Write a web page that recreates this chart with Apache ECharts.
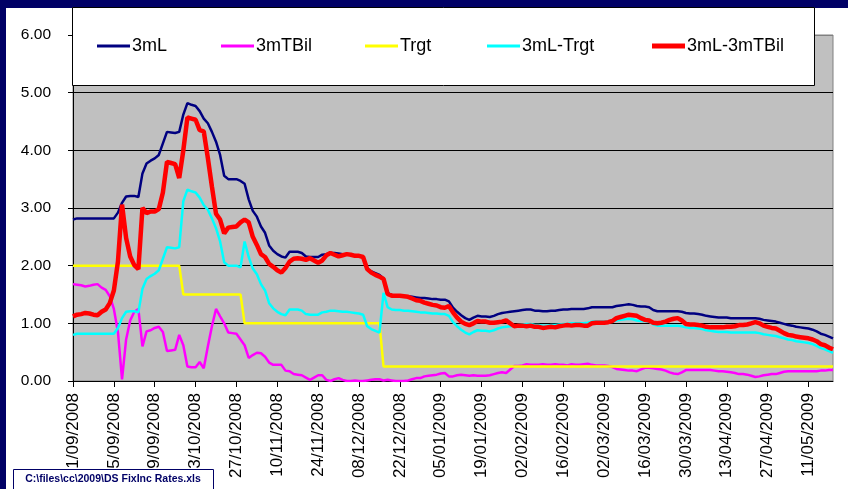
<!DOCTYPE html>
<html>
<head>
<meta charset="utf-8">
<script src="https://cdn.jsdelivr.net/npm/echarts@6/dist/echarts.min.js"></script>
<style>
html,body{margin:0;padding:0;background:#000066;}
#chart{width:848px;height:489px;}
</style>
</head>
<body>
<div id="chart"></div>
<script>
// ---- data (business days from 01/09/2008) ----
const seriesNames = ['3mL', '3mTBil', 'Trgt', '3mL-Trgt', '3mL-3mTBil'];
const startDay = '01/09/2008';

const libor3m = [
2.80,2.82,2.82,2.82,2.82,2.82,2.82,2.82,2.82,2.82,
2.82,2.92,3.09,3.20,3.21,3.21,3.19,3.60,3.77,3.82,
3.86,3.92,4.12,4.32,4.31,4.30,4.32,4.62,4.82,4.79,
4.77,4.68,4.55,4.47,4.32,4.15,3.92,3.56,3.50,3.50,
3.50,3.47,3.42,3.15,2.95,2.85,2.68,2.57,2.35,2.26,
2.20,2.16,2.14,2.24,2.24,2.24,2.22,2.16,2.15,2.15,
2.15,2.19,2.20,2.22,2.22,2.21,2.20,2.20,2.19,2.18,
2.17,2.15,1.95,1.90,1.87,1.84,1.78,1.53,1.49,1.48,
1.48,1.47,1.47,1.46,1.45,1.44,1.44,1.43,1.42,1.42,
1.41,1.41,1.38,1.27,1.20,1.14,1.09,1.06,1.10,1.13,
1.12,1.12,1.11,1.13,1.16,1.18,1.19,1.20,1.21,1.22,
1.23,1.24,1.24,1.22,1.22,1.21,1.21,1.22,1.22,1.23,
1.24,1.24,1.25,1.25,1.25,1.25,1.26,1.28,1.28,1.28,
1.28,1.28,1.28,1.30,1.31,1.32,1.33,1.32,1.30,1.29,
1.29,1.28,1.23,1.21,1.21,1.21,1.21,1.21,1.21,1.20,
1.18,1.17,1.17,1.16,1.15,1.13,1.12,1.11,1.10,1.10,
1.10,1.09,1.09,1.09,1.09,1.09,1.09,1.09,1.08,1.06,
1.05,1.04,1.03,1.01,0.99,0.97,0.96,0.94,0.93,0.92,
0.91,0.89,0.86,0.82,0.80,0.77,0.74];

const tbill3m = [
1.68,1.67,1.66,1.64,1.65,1.67,1.68,1.62,1.58,1.47,
1.25,0.85,0.03,0.72,1.05,1.20,1.25,0.60,0.86,0.88,
0.92,0.94,0.85,0.52,0.53,0.54,0.80,0.62,0.25,0.24,
0.24,0.33,0.22,0.60,0.95,1.25,1.12,1.00,0.84,0.83,
0.82,0.72,0.62,0.40,0.45,0.49,0.48,0.42,0.32,0.28,
0.28,0.28,0.18,0.17,0.12,0.11,0.10,0.06,0.02,0.06,
0.10,0.10,0.02,0.00,0.03,0.05,0.02,0.00,0.00,0.01,
0.00,0.00,0.01,0.02,0.03,0.03,0.01,0.02,0.01,0.00,
0.00,0.00,0.01,0.03,0.05,0.05,0.08,0.09,0.10,0.11,
0.13,0.14,0.08,0.08,0.10,0.11,0.10,0.09,0.10,0.09,
0.09,0.09,0.10,0.12,0.14,0.15,0.14,0.20,0.26,0.26,
0.27,0.29,0.28,0.28,0.28,0.29,0.28,0.28,0.29,0.28,
0.28,0.27,0.29,0.28,0.28,0.29,0.30,0.28,0.27,0.27,
0.27,0.26,0.24,0.21,0.20,0.19,0.18,0.18,0.17,0.20,
0.23,0.23,0.22,0.21,0.20,0.18,0.15,0.13,0.12,0.15,
0.19,0.19,0.19,0.19,0.19,0.19,0.19,0.18,0.17,0.17,
0.16,0.15,0.14,0.12,0.12,0.11,0.09,0.07,0.08,0.10,
0.11,0.12,0.12,0.14,0.16,0.17,0.17,0.17,0.17,0.17,
0.17,0.17,0.17,0.18,0.18,0.19,0.19];

const target = [
2.00,2.00,2.00,2.00,2.00,2.00,2.00,2.00,2.00,2.00,
2.00,2.00,2.00,2.00,2.00,2.00,2.00,2.00,2.00,2.00,
2.00,2.00,2.00,2.00,2.00,2.00,2.00,1.50,1.50,1.50,
1.50,1.50,1.50,1.50,1.50,1.50,1.50,1.50,1.50,1.50,
1.50,1.50,1.00,1.00,1.00,1.00,1.00,1.00,1.00,1.00,
1.00,1.00,1.00,1.00,1.00,1.00,1.00,1.00,1.00,1.00,
1.00,1.00,1.00,1.00,1.00,1.00,1.00,1.00,1.00,1.00,
1.00,1.00,1.00,1.00,1.00,1.00,0.25,0.25,0.25,0.25,
0.25,0.25,0.25,0.25,0.25,0.25,0.25,0.25,0.25,0.25,
0.25,0.25,0.25,0.25,0.25,0.25,0.25,0.25,0.25,0.25,
0.25,0.25,0.25,0.25,0.25,0.25,0.25,0.25,0.25,0.25,
0.25,0.25,0.25,0.25,0.25,0.25,0.25,0.25,0.25,0.25,
0.25,0.25,0.25,0.25,0.25,0.25,0.25,0.25,0.25,0.25,
0.25,0.25,0.25,0.25,0.25,0.25,0.25,0.25,0.25,0.25,
0.25,0.25,0.25,0.25,0.25,0.25,0.25,0.25,0.25,0.25,
0.25,0.25,0.25,0.25,0.25,0.25,0.25,0.25,0.25,0.25,
0.25,0.25,0.25,0.25,0.25,0.25,0.25,0.25,0.25,0.25,
0.25,0.25,0.25,0.25,0.25,0.25,0.25,0.25,0.25,0.25,
0.25,0.25,0.25,0.25,0.25,0.25,0.25];

const liborMinusTarget = [
0.80,0.82,0.82,0.82,0.82,0.82,0.82,0.82,0.82,0.82,
0.82,0.92,1.09,1.20,1.21,1.21,1.19,1.60,1.77,1.82,
1.86,1.92,2.12,2.32,2.31,2.30,2.32,3.12,3.32,3.29,
3.27,3.18,3.05,2.97,2.82,2.65,2.42,2.06,2.00,2.00,
2.00,1.97,2.42,2.15,1.95,1.85,1.68,1.57,1.35,1.26,
1.20,1.16,1.14,1.24,1.24,1.24,1.22,1.16,1.15,1.15,
1.15,1.19,1.20,1.22,1.22,1.21,1.20,1.20,1.19,1.18,
1.17,1.15,0.95,0.90,0.87,0.84,1.53,1.28,1.24,1.23,
1.23,1.22,1.22,1.21,1.20,1.19,1.19,1.18,1.17,1.17,
1.16,1.16,1.13,1.02,0.95,0.89,0.84,0.81,0.85,0.88,
0.87,0.87,0.86,0.88,0.91,0.93,0.94,0.95,0.96,0.97,
0.98,0.99,0.99,0.97,0.97,0.96,0.96,0.97,0.97,0.98,
0.99,0.99,1.00,1.00,1.00,1.00,1.01,1.03,1.03,1.03,
1.03,1.03,1.03,1.05,1.06,1.07,1.08,1.07,1.05,1.04,
1.04,1.03,0.98,0.96,0.96,0.96,0.96,0.96,0.96,0.95,
0.93,0.92,0.92,0.91,0.90,0.88,0.87,0.86,0.85,0.85,
0.85,0.84,0.84,0.84,0.84,0.84,0.84,0.84,0.83,0.81,
0.80,0.79,0.78,0.76,0.74,0.72,0.71,0.69,0.68,0.67,
0.66,0.64,0.61,0.57,0.55,0.52,0.49];

const liborMinusTbill = [
1.12,1.15,1.16,1.18,1.17,1.15,1.14,1.20,1.24,1.35,
1.57,2.07,3.06,2.48,2.16,2.01,1.94,3.00,2.91,2.94,
2.94,2.98,3.27,3.80,3.78,3.76,3.52,4.00,4.57,4.55,
4.53,4.35,4.33,3.87,3.37,2.90,2.80,2.56,2.66,2.67,
2.68,2.75,2.80,2.75,2.50,2.36,2.20,2.15,2.03,1.98,
1.92,1.88,1.96,2.07,2.12,2.13,2.12,2.10,2.13,2.09,
2.05,2.09,2.18,2.22,2.19,2.16,2.18,2.20,2.19,2.17,
2.17,2.15,1.94,1.88,1.84,1.81,1.77,1.51,1.48,1.48,
1.48,1.47,1.46,1.43,1.40,1.39,1.36,1.34,1.32,1.31,
1.28,1.27,1.30,1.19,1.10,1.03,0.99,0.97,1.00,1.04,
1.03,1.03,1.01,1.01,1.02,1.03,1.05,1.00,0.95,0.96,
0.96,0.95,0.96,0.94,0.94,0.92,0.93,0.94,0.93,0.95,
0.96,0.97,0.96,0.97,0.97,0.96,0.96,1.00,1.01,1.01,
1.01,1.02,1.04,1.09,1.11,1.13,1.15,1.14,1.13,1.09,
1.06,1.05,1.01,1.00,1.01,1.03,1.06,1.08,1.09,1.05,
0.99,0.98,0.98,0.97,0.96,0.94,0.93,0.93,0.93,0.93,
0.94,0.94,0.95,0.97,0.97,0.98,1.00,1.02,1.00,0.96,
0.94,0.92,0.91,0.87,0.83,0.80,0.79,0.77,0.76,0.75,
0.74,0.72,0.69,0.64,0.62,0.58,0.55];

const yTicks = [0, 1, 2, 3, 4, 5, 6];
const fileLabel = 'C:\\files\\cc\\2009\\DS FixInc Rates.xls';

// ---- category axis: weekdays starting at startDay ----
function pad(n){ return (n < 10 ? '0' : '') + n; }
const categories = [];
(function(){
  const p = startDay.split('/');
  const d = new Date(+p[2], +p[1] - 1, +p[0]);
  while (categories.length < libor3m.length) {
    const w = d.getDay();
    if (w !== 0 && w !== 6) categories.push(pad(d.getDate()) + '/' + pad(d.getMonth() + 1) + '/' + d.getFullYear());
    d.setDate(d.getDate() + 1);
  }
})();

const FONT = "'Liberation Sans', Arial, sans-serif";
const colors = ['#000080', '#FF00FF', '#FFFF00', '#00FFFF', '#FF0000'];
const widths = [2.5, 2.5, 2.5, 2.5, 4.5];
const legendIconH = [3, 3, 3, 3, 5];
const dataSets = [libor3m, tbill3m, target, liborMinusTarget, liborMinusTbill];
const legendLeft = [97, 221, 365, 487, 652];

const chart = echarts.init(document.getElementById('chart'), null, {renderer: 'canvas'});
chart.setOption({
  backgroundColor: '#000066',
  animation: false,
  grid: {
    left: 73, top: 35, right: 15, bottom: 108,
    show: true, backgroundColor: '#C0C0C0', borderColor: '#808080', borderWidth: 1,
    containLabel: false, outerBoundsMode: 'none'
  },
  xAxis: {
    type: 'category', data: categories, boundaryGap: false,
    axisLine: {lineStyle: {color: '#000', width: 1}},
    axisTick: {interval: 9, length: 6, lineStyle: {color: '#000'}},
    axisLabel: {interval: 9, rotate: 90, fontSize: 17, fontFamily: FONT, color: '#000', margin: 12},
    splitLine: {show: false}
  },
  yAxis: {
    type: 'value', min: yTicks[0], max: yTicks[yTicks.length - 1], interval: 1,
    axisLine: {show: true, lineStyle: {color: '#000', width: 1}},
    axisTick: {show: true, length: 5, lineStyle: {color: '#000'}},
    axisLabel: {fontSize: 15.5, fontFamily: FONT, color: '#000', margin: 22, formatter: v => v.toFixed(2)},
    splitLine: {show: true, lineStyle: {color: ['#000','#000','#000','#000','#000','#000','#808080'], width: 1}}
  },
  legend: seriesNames.map((n, i) => ({
    data: [{name: n, icon: 'rect', itemStyle: {color: colors[i], borderWidth: 0}}],
    left: legendLeft[i], top: 37, padding: 0,
    itemWidth: 33, itemHeight: legendIconH[i], itemGap: 0,
    textStyle: {fontSize: 18, fontFamily: FONT, color: '#000', padding: [0, 0, 0, -3]},
    z: 20
  })),
  graphic: [
    {type: 'rect', z: -100, silent: true, shape: {x: 6, y: 8, width: 842, height: 481}, style: {fill: '#FFFFFF'}},
    {type: 'rect', z: 15, silent: true, shape: {x: 72.5, y: 7.5, width: 742, height: 78}, style: {fill: '#FFFFFF', stroke: '#000', lineWidth: 1}},
    {type: 'rect', z: 25, silent: true, shape: {x: 13.5, y: 469.5, width: 200, height: 22}, style: {fill: '#FFFFFF', stroke: '#000066', lineWidth: 1}},
    {type: 'text', z: 26, silent: true, x: 113, y: 479, style: {text: fileLabel, fill: '#000066', font: "bold 10.5px " + FONT, align: 'center', verticalAlign: 'middle'}}
  ],
  series: seriesNames.map((n, i) => ({
    name: n, type: 'line', data: dataSets[i], symbol: 'none', smooth: false,
    lineStyle: {color: colors[i], width: widths[i]}, itemStyle: {color: colors[i]},
    z: 2 + i
  }))
});
</script>
</body>
</html>
